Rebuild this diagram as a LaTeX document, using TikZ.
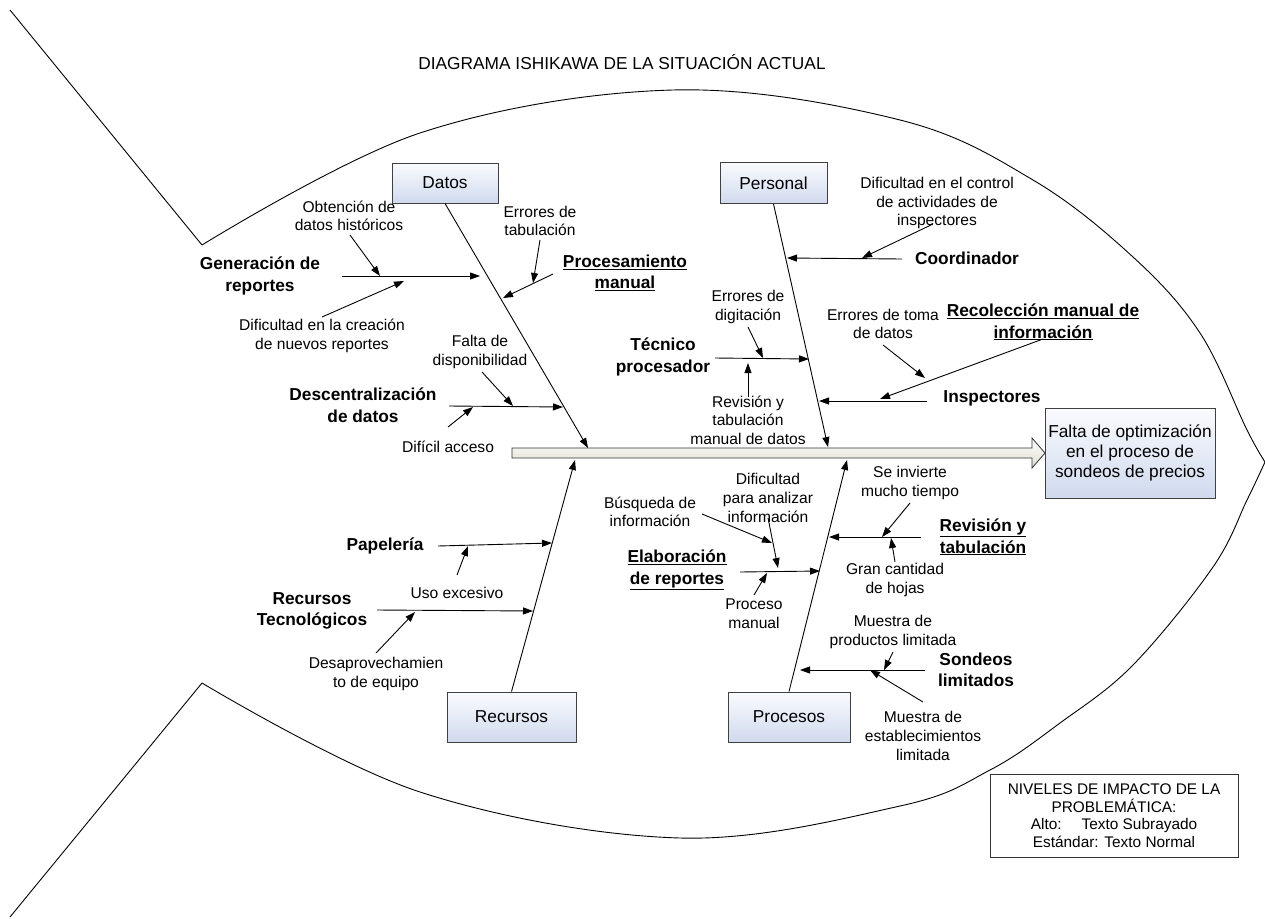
\documentclass[tikz,border=0pt]{standalone}
\usepackage{fontspec}
\setmainfont{Liberation Sans}
\usetikzlibrary{arrows.meta,shadings}
\definecolor{boxtop}{RGB}{250,251,254}
\definecolor{boxbot}{RGB}{208,218,238}
\definecolor{spinebot}{RGB}{222,222,208}
\begin{document}
\begin{tikzpicture}[x=1pt,y=-1pt,line width=0.9pt,
  catbox/.style={draw=black!75,top color=boxtop,bottom color=boxbot,
    font=\fontsize{17.3}{20}\selectfont,inner sep=0pt},
  cause/.style={align=center,inner sep=0pt,
    font=\fontsize{17.3}{21.5}\selectfont\bfseries},
  note/.style={align=center,inner sep=0pt,
    font=\fontsize{15.6}{18.6}\selectfont},
  bone/.style={-{Triangle[length=10pt,width=7pt]}},
]
\useasboundingbox (0,0) rectangle (1265,918);

% fish outline: tail and body
\draw (10,10) -- (202,245);
\draw (202,683) -- (10,917);
\draw plot[smooth,tension=0.6] coordinates {(202,245) (420,133) (673,90) (900,120)
  (1033,180) (1133,257) (1200,333) (1247,430) (1265,462)};
\draw plot[smooth,tension=0.6] coordinates {(1265,462) (1247,500) (1213,567)
  (1133,665) (1060,723) (990,770) (900,806) (680,838) (420,792) (202,683)};

% title
\node[font=\fontsize{17.3}{20}\selectfont] (title) at (622,62)
  {DIAGRAMA ISHIKAWA DE LA SITUACIÓN ACTUAL};

% spine (block arrow)
\draw[draw=black!80,top color=white,bottom color=spinebot,line width=0.8pt]
  (512,448) -- (1032,448) -- (1032,438) -- (1045,453) -- (1032,468)
  -- (1032,458) -- (512,458) -- cycle;

% effect box
\node[catbox,minimum width=170pt,minimum height=90pt,align=center] (effect) at (1130,453)
  {Falta de optimización\\en el proceso de\\sondeos de precios};

% category boxes
\node[catbox,minimum width=106pt,minimum height=40pt] (datos) at (445,183) {Datos};
\node[catbox,minimum width=107pt,minimum height=41pt] (personal) at (773.5,183) {Personal};
\node[catbox,minimum width=129pt,minimum height=50pt] (recursos) at (511.5,717) {Recursos};
\node[catbox,minimum width=122pt,minimum height=50pt] (procesos) at (789,717) {Procesos};

% main bone ends on the spine
\coordinate (sDatos) at (588,448);
\coordinate (sPersonal) at (828,447);
\coordinate (sRecursos) at (575,460);
\coordinate (sProcesos) at (847,460);
\draw[bone] (datos.south) -- (sDatos);
\draw[bone] (personal.south) -- (sPersonal);
\draw[bone] (recursos.north) -- (sRecursos);
\draw[bone] (procesos.north) -- (sProcesos);

% ---- Datos ----
\node[cause] (cGen) at (260,276) {Generación de\\reportes};
\node[cause] (cProc) at (625,273) {\underline{Procesamiento}\\\underline{manual}};
\node[cause] (cDesc) at (363,405) {Descentralización\\de datos};
\node[note] (nObt) at (349,216) {Obtención de\\datos históricos};
\node[note] (nDifCre) at (322,336) {Dificultad en la creación\\de nuevos reportes};
\node[note] (nErrTab) at (540,221) {Errores de\\tabulación};
\node[note] (nFalta) at (480,352) {Falta de\\disponibilidad};
\node[note] (nDificil) at (448,447) {Difícil acceso};

\coordinate (gA) at (342,276); \coordinate (gB) at (480,276);
\coordinate (pA) at (553,274); \coordinate (pB) at (503,298);
\coordinate (dA) at (449,406); \coordinate (dB) at (563,407);
\draw[bone] (gA) -- (gB);
\draw[bone] (pA) -- (pB);
\draw[bone] (dA) -- (dB);
\coordinate (obtA) at (350,235); \coordinate (obtB) at (380,276);
\coordinate (creA) at (322,317); \coordinate (creB) at (404,281);
\coordinate (tabA) at (540,240); \coordinate (tabB) at (533,283);
\coordinate (falA) at (482,372); \coordinate (falB) at (513,406);
\coordinate (difA) at (448,427); \coordinate (difB) at (473,407);
\draw[bone] (obtA) -- (obtB);
\draw[bone] (creA) -- (creB);
\draw[bone] (tabA) -- (tabB);
\draw[bone] (falA) -- (falB);
\draw[bone] (difA) -- (difB);

% ---- Personal ----
\node[cause] (cCoord) at (967,258) {Coordinador};
\node[cause] (cTec) at (663,357) {Técnico\\procesador};
\node[cause] (cRecol) at (1043,322) {\underline{Recolección manual de}\\\underline{información}};
\node[cause] (cInsp) at (992,398) {Inspectores};
\node[note] (nCtrl) at (937,203) {Dificultad en el control\\de actividades de\\inspectores};
\node[note] (nDig) at (748,307) {Errores de\\digitación};
\node[note] (nRevMan) at (748,420) {Revisión y\\tabulación\\manual de datos};
\node[note] (nToma) at (883,324) {Errores de toma\\de datos};

\coordinate (coA) at (902,259); \coordinate (coB) at (787,258);
\coordinate (teA) at (715,358); \coordinate (teB) at (809,359);
\coordinate (reA) at (1043,339); \coordinate (reB) at (880,399);
\coordinate (inA) at (927,401); \coordinate (inB) at (819,401);
\draw[bone] (coA) -- (coB);
\draw[bone] (teA) -- (teB);
\draw[bone] (reA) -- (reB);
\draw[bone] (inA) -- (inB);
\coordinate (ctA) at (933,224); \coordinate (ctB) at (862,258);
\coordinate (dgA) at (748,327); \coordinate (dgB) at (763,358);
\coordinate (rmA) at (748,397); \coordinate (rmB) at (748,363);
\coordinate (toA) at (883,345); \coordinate (toB) at (925,378);
\draw[bone] (ctA) -- (ctB);
\draw[bone] (dgA) -- (dgB);
\draw[bone] (rmA) -- (rmB);
\draw[bone] (toA) -- (toB);

% ---- Recursos ----
\node[cause] (cPap) at (385,546) {Papelería};
\node[cause] (cRecTec) at (312,611) {Recursos\\Tecnológicos};
\node[note] (nUso) at (457,593) {Uso excesivo};
\node[note] (nDesap) at (376,674) {Desaprovechamien\\to de equipo};

\coordinate (paA) at (438,546); \coordinate (paB) at (552,543);
\coordinate (rtA) at (377,610); \coordinate (rtB) at (533,611);
\draw[bone] (paA) -- (paB);
\draw[bone] (rtA) -- (rtB);
\coordinate (usA) at (457,575); \coordinate (usB) at (468,546);
\coordinate (deA) at (376,653); \coordinate (deB) at (415,612);
\draw[bone] (usA) -- (usB);
\draw[bone] (deA) -- (deB);

% ---- Procesos ----
\node[cause] (cElab) at (677,570) {\underline{Elaboración}\\\underline{de reportes}};
\node[cause] (cRevTab) at (983,537) {\underline{Revisión y}\\\underline{tabulación}};
\node[cause] (cSond) at (976,670) {Sondeos\\limitados};
\node[note] (nBusq) at (650,512) {Búsqueda de\\información};
\node[note] (nAnal) at (768,498) {Dificultad\\para analizar\\información};
\node[note] (nProcMan) at (754,614) {Proceso\\manual};
\node[note] (nInv) at (910,483) {Se invierte\\mucho tiempo};
\node[note] (nGran) at (895,580) {Gran cantidad\\de hojas};
\node[note] (nMuProd) at (893,632) {Muestra de\\productos limitada};
\node[note] (nMuEst) at (923,736) {Muestra de\\establecimientos\\limitada};

\coordinate (elA) at (740,572); \coordinate (elB) at (820,571);
\coordinate (rvA) at (921,537); \coordinate (rvB) at (829,537);
\coordinate (soA) at (925,670); \coordinate (soB) at (800,670);
\draw[bone] (elA) -- (elB);
\draw[bone] (rvA) -- (rvB);
\draw[bone] (soA) -- (soB);
\coordinate (buA) at (702,514); \coordinate (buB) at (772,543);
\coordinate (anA) at (768,518); \coordinate (anB) at (778,568);
\coordinate (pmA) at (754,595); \coordinate (pmB) at (767,573);
\coordinate (ivA) at (910,503); \coordinate (ivB) at (882,537);
\coordinate (grA) at (895,562); \coordinate (grB) at (891,538);
\coordinate (mpA) at (893,652); \coordinate (mpB) at (884,670);
\coordinate (meA) at (923,702); \coordinate (meB) at (870,670);
\draw[bone] (buA) -- (buB);
\draw[bone] (anA) -- (anB);
\draw[bone] (pmA) -- (pmB);
\draw[bone] (ivA) -- (ivB);
\draw[bone] (grA) -- (grB);
\draw[bone] (mpA) -- (mpB);
\draw[bone] (meA) -- (meB);

% legend
\node[draw=black!80,minimum width=248pt,minimum height=83pt,align=center,
  font=\fontsize{15.4}{17.6}\selectfont] (legend) at (1114,815.5)
  {NIVELES DE IMPACTO DE LA\\PROBLEMÁTICA:\\Alto:\hspace{1.3em}Texto Subrayado\\Estándar: Texto Normal};
\end{tikzpicture}
\end{document}
